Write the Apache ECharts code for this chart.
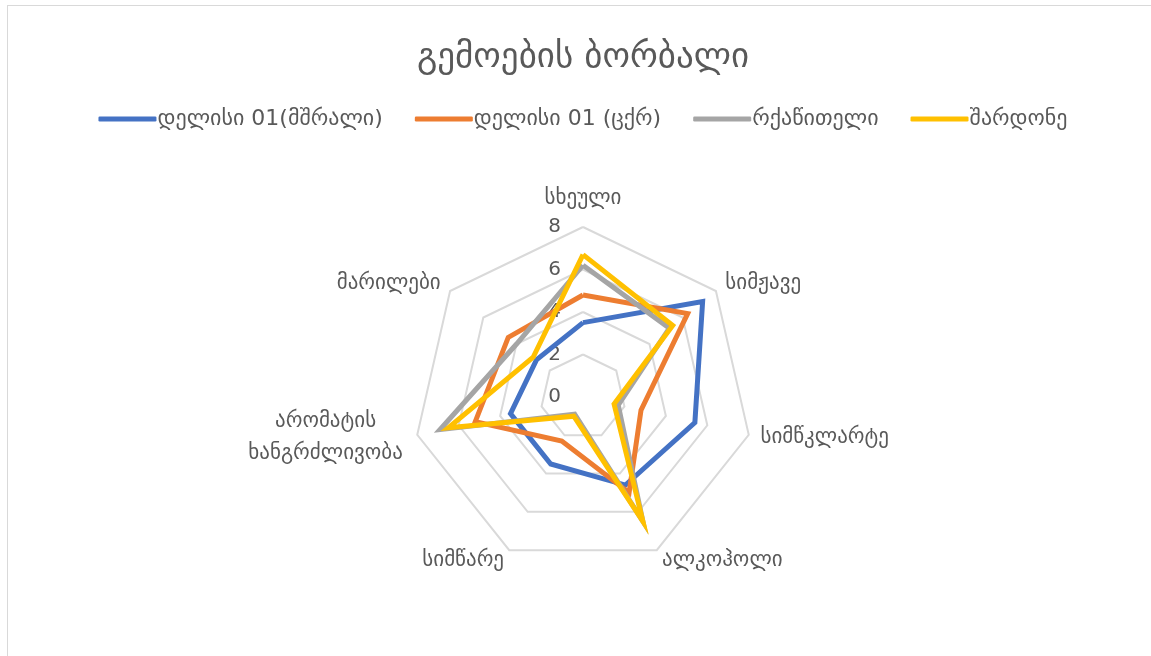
<!DOCTYPE html>
<html>
<head>
<meta charset="utf-8">
<script src="https://cdn.jsdelivr.net/npm/echarts@6/dist/echarts.min.js"></script>
<style>
  html, body { margin: 0; padding: 0; background: #ffffff; overflow: hidden; }
  #chart {
    position: absolute; left: 7px; top: 5px;
    width: 1150px; height: 660px;
    border: 1px solid #d9d9d9; background: #ffffff;
  }
</style>
</head>
<body>
<div id="chart"></div>
<script>
// Taste wheel: four wines scored on seven attributes (0–8), listed clockwise from the top
const titleText = 'გემოების ბორბალი';
const attributes = ['სხეული', 'სიმჟავე', 'სიმწკლარტე', 'ალკოჰოლი', 'სიმწარე', 'არომატის\nხანგრძლივობა', 'მარილები'];
const seriesNames = ['დელისი 01(მშრალი)', 'დელისი 01 (ცქრ)', 'რქაწითელი', 'შარდონე'];
const deliciDry     = [3.5, 7.2, 5.4, 4.6, 3.5, 3.5, 2.8];
const deliciSparkle = [4.8, 6.3, 2.8, 5.0, 2.3, 5.2, 4.5];
const rkatsiteli    = [6.2, 5.2, 1.7, 6.5, 0.9, 6.9, 4.0];
const chardonnay    = [6.7, 5.4, 1.5, 6.5, 1.0, 6.5, 3.0];
const axisMax = 8;
const colors = ['#4472C4', '#ED7D31', '#A5A5A5', '#FFC000'];

const FONT = 'DejaVu Sans, sans-serif';
const TEXT = '#595959';

// ECharts lays radar indicators out counter-clockwise; reorder so they run clockwise
const n = attributes.length;
const order = attributes.map((_, i) => (n - i) % n);
const reorder = arr => order.map(j => arr[j]);

const chart = echarts.init(document.getElementById('chart'), null, { renderer: 'canvas' });

const indicator = reorder(attributes).map((name, i) => {
  const ind = { name: name, min: 0, max: axisMax };
  // tick values are printed only along the top axis
  if (i !== 0) ind.axisLabel = { show: false };
  return ind;
});

const valueSets = [deliciDry, deliciSparkle, rkatsiteli, chardonnay];

chart.setOption({
  animation: false,
  color: colors,
  title: {
    text: titleText,
    left: 'center',
    top: 29,
    textStyle: { fontFamily: FONT, fontSize: 35, fontWeight: 'normal', color: TEXT }
  },
  legend: {
    top: 97,
    left: 'center',
    icon: 'roundRect',
    itemWidth: 58,
    itemHeight: 5,
    itemGap: 32,
    textStyle: { fontFamily: FONT, fontSize: 22, color: TEXT, padding: [0, 0, 0, -4] },
    data: seriesNames
  },
  radar: {
    center: [575, 391],
    radius: 170,
    startAngle: 90,
    splitNumber: 4,
    shape: 'polygon',
    indicator: indicator,
    axisName: {
      fontFamily: FONT, fontSize: 21, color: TEXT, lineHeight: 32,
      // two-line names are centred on each other
      formatter: name => name.indexOf('\n') < 0 ? name
        : name.split('\n').map(line => '{c|' + line + '}').join('\n'),
      rich: { c: { width: 160, align: 'center', fontFamily: FONT, fontSize: 21, color: TEXT, lineHeight: 32 } }
    },
    nameGap: 12,
    axisLine: { show: false },
    axisTick: { show: false },
    splitArea: { show: false },
    splitLine: { lineStyle: { color: '#d9d9d9', width: 2 } },
    axisLabel: { show: true, fontFamily: FONT, fontSize: 20, color: TEXT, margin: 22 }
  },
  series: seriesNames.map((name, k) => ({
    type: 'radar',
    name: name,
    symbol: 'none',
    lineStyle: { width: 5, color: colors[k], join: 'miter' },
    itemStyle: { color: colors[k] },
    data: [{ name: name, value: reorder(valueSets[k]) }]
  }))
});
</script>
</body>
</html>
